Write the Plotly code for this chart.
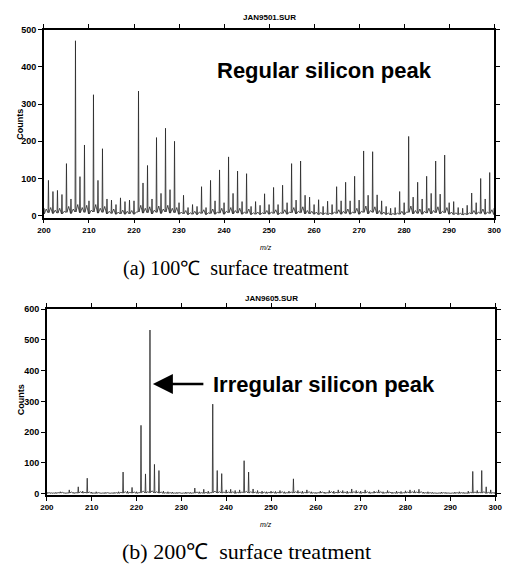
import plotly.graph_objects as go

W, H = 508, 569

# ---------------- data ----------------
mz = list(range(200, 301))

top_peak = [20, 95, 65, 68, 57, 140, 45, 470, 105, 190,
            40, 325, 95, 180, 45, 42, 30, 48, 38, 42,
            40, 335, 88, 135, 45, 210, 60, 235, 70, 200,
            35, 55, 22, 30, 25, 78, 22, 95, 40, 123,
            35, 158, 60, 120, 38, 113, 25, 38, 28, 59,
            30, 76, 30, 82, 35, 140, 42, 147, 55, 50,
            30, 43, 25, 39, 30, 78, 40, 90, 40, 106,
            42, 174, 55, 172, 56, 40, 25, 20, 22, 65,
            35, 213, 50, 90, 45, 106, 60, 147, 58, 163,
            35, 38, 22, 20, 28, 61, 35, 100, 45, 116, 20]
top_valley = [5, 8, 6, 7, 5, 9, 6, 10, 8, 9, 5, 10, 7, 9, 5, 6, 4, 5, 4, 5,
              4, 10, 7, 8, 5, 9, 6, 10, 7, 8, 4, 5, 3, 4, 3, 6, 3, 6, 4, 7,
              4, 8, 5, 7, 4, 6, 3, 4, 3, 5, 4, 6, 3, 6, 4, 8, 5, 8, 5, 5,
              4, 3, 3, 3, 4, 6, 4, 6, 4, 7, 4, 9, 5, 9, 5, 4, 3, 2, 3, 4,
              3, 9, 5, 6, 4, 7, 5, 8, 5, 8, 4, 3, 3, 2, 3, 5, 4, 6, 4, 6, 3]
top_minor = [18, 22, 15, 20, 12, 25, 18, 30, 22, 28, 15, 30, 20, 25, 12, 18, 10, 15, 12, 14,
             10, 28, 20, 24, 15, 26, 18, 28, 20, 22, 10, 14, 8, 12, 10, 16, 8, 18, 10, 20,
             12, 22, 14, 20, 10, 18, 8, 10, 8, 14, 10, 16, 8, 16, 10, 22, 12, 24, 14, 12,
             10, 9, 8, 7, 10, 16, 12, 18, 10, 20, 12, 26, 14, 24, 14, 10, 8, 6, 7, 12,
             10, 26, 14, 18, 12, 20, 14, 24, 12, 22, 10, 8, 7, 6, 8, 14, 10, 18, 10, 16, 8]

bot_peak = [5, 3, 4, 6, 3, 12, 4, 22, 8, 50,
            5, 6, 3, 4, 2, 4, 6, 70, 8, 20,
            6, 222, 64, 532, 95, 75, 8, 6, 5, 4,
            3, 5, 4, 18, 6, 14, 8, 291, 75, 65,
            12, 14, 10, 12, 107, 70, 15, 10, 8, 6,
            8, 7, 10, 6, 8, 48, 10, 8, 12, 6,
            4, 8, 5, 10, 8, 12, 10, 8, 15, 10,
            8, 12, 6, 8, 12, 6, 10, 5, 8, 7,
            9, 12, 10, 14, 5, 6, 4, 3, 5, 4,
            3, 5, 6, 4, 8, 72, 10, 75, 22, 12, 5]
bot_valley = [1, 1, 1, 2, 1, 2, 1, 2, 2, 2, 1, 1, 1, 1, 1, 1, 1, 2, 1, 2,
              1, 3, 2, 3, 2, 2, 1, 1, 1, 1, 1, 1, 1, 2, 1, 1, 1, 3, 2, 2,
              2, 2, 1, 2, 3, 2, 2, 1, 1, 1, 2, 1, 2, 1, 2, 2, 2, 1, 2, 1,
              1, 2, 1, 2, 1, 2, 2, 1, 2, 2, 1, 2, 1, 2, 2, 1, 2, 1, 1, 1,
              2, 2, 2, 2, 1, 1, 1, 1, 1, 1, 1, 1, 1, 1, 1, 2, 2, 2, 1, 1, 1]
bot_minor = [3, 2, 3, 4, 2, 5, 3, 6, 4, 5, 2, 3, 2, 3, 2, 3, 4, 6, 4, 5,
             3, 8, 6, 9, 6, 5, 3, 3, 2, 3, 2, 3, 2, 5, 3, 4, 3, 8, 6, 5,
             5, 6, 4, 5, 7, 6, 5, 4, 5, 4, 5, 4, 6, 3, 5, 6, 5, 4, 6, 3,
             3, 5, 3, 6, 4, 6, 5, 4, 6, 5, 4, 6, 3, 5, 6, 3, 5, 3, 4, 3,
             5, 6, 5, 6, 3, 3, 2, 2, 3, 2, 2, 3, 3, 2, 4, 5, 4, 6, 4, 3, 2]

x_ticks = list(range(200, 301, 10))
top_yticks = [0, 100, 200, 300, 400, 500]
bot_yticks = [0, 100, 200, 300, 400, 500, 600]


def stick(mzs, peaks, valleys, minors):
    xs, ys = [], []
    for m, p, v, n in zip(mzs, peaks, valleys, minors):
        xs += [m - 0.1, m, m + 0.1, m + 0.5]
        ys += [v, p, v, n]
    return xs, ys


fig = go.Figure()
tx, ty = stick(mz, top_peak, top_valley, top_minor)
bx, by = stick(mz, bot_peak, bot_valley, bot_minor)
fig.add_trace(go.Scatter(x=tx, y=ty, mode="lines", line=dict(color="#262626", width=0.8),
                         xaxis="x", yaxis="y", showlegend=False, hoverinfo="skip"))
fig.add_trace(go.Scatter(x=bx, y=by, mode="lines", line=dict(color="#262626", width=0.8),
                         xaxis="x2", yaxis="y2", showlegend=False, hoverinfo="skip"))

xfont = dict(family="Liberation Sans, Arial", size=8, color="black", weight="bold")
yfont = dict(family="Liberation Sans, Arial", size=9, color="black", weight="bold")
axis_common = dict(showline=True, linecolor="black", linewidth=1.5, mirror="ticks",
                   ticks="outside", ticklen=4, tickwidth=1.2, tickcolor="black",
                   showgrid=False, zeroline=False, ticklabeloverflow="allow")

fig.update_layout(
    width=W, height=H, margin=dict(l=0, r=0, t=0, b=0),
    paper_bgcolor="white", plot_bgcolor="white",
    xaxis=dict(domain=[38 / W, 501 / W], range=[200, 300], tickvals=x_ticks,
               anchor="y", tickfont=xfont, **axis_common),
    yaxis=dict(domain=[1 - 216 / H, 1 - 25 / H], range=[-5, 500], tickvals=top_yticks,
               anchor="x", tickfont=yfont, **axis_common),
    xaxis2=dict(domain=[41 / W, 502 / W], range=[200, 300], tickvals=x_ticks,
                anchor="y2", tickfont=xfont, **axis_common),
    yaxis2=dict(domain=[1 - 498 / H, 1 - 309 / H], range=[-5, 600], tickvals=bot_yticks,
                anchor="x2", tickfont=yfont, **axis_common),
)


def px(x):
    return x / W


def py(y):
    return 1 - y / H


small = dict(family="Liberation Sans, Arial", size=8, color="black", weight="bold")
ann = [
    dict(x=px(270), y=py(13), text="JAN9501.SUR", font=small),
    dict(x=px(272), y=py(298), text="JAN9605.SUR", font=small),
    dict(x=px(266), y=py(246), text="<i>m/z</i>", font=dict(family="Liberation Sans", size=7, color="black")),
    dict(x=px(266), y=py(528), text="<i>m/z</i>", font=dict(family="Liberation Sans", size=7, color="black")),
    dict(x=px(13), y=py(121), text="Counts", textangle=-90, font=dict(family="Liberation Sans", size=9, color="black", weight="bold")),
    dict(x=px(14), y=py(401), text="Counts", textangle=-90, font=dict(family="Liberation Sans", size=9, color="black", weight="bold")),
    dict(x=px(326), y=py(67), text="Regular silicon peak",
         font=dict(family="Liberation Sans, Arial", size=22, color="black", weight="bold")),
    dict(x=px(326), y=py(386), text="Irregular silicon peak",
         font=dict(family="Liberation Sans, Arial", size=22, color="black", weight="bold")),
    dict(x=px(236), y=py(268), text="(a) 100℃  surface treatment",
         font=dict(family="Liberation Serif, Times New Roman", size=20, color="black")),
    dict(x=px(246), y=py(555), text="(b) 200℃  surface treatment",
         font=dict(family="Liberation Serif, Times New Roman", size=22, color="black")),
]
for a in ann:
    a.update(xref="paper", yref="paper", showarrow=False, xanchor="center", yanchor="middle")
    fig.add_annotation(**a)

# arrow pointing at the irregular peak
fig.add_annotation(x=px(150), y=py(385), xref="paper", yref="paper", text="",
                   showarrow=True, ax=52, ay=0, axref="pixel", ayref="pixel",
                   arrowhead=2, arrowsize=1.6, arrowwidth=2.5, arrowcolor="black")

fig.write_html("out.html", config={"displayModeBar": False},
               post_script="document.body.style.margin='0';document.body.style.padding='0';"
                           "document.body.style.overflow='hidden';")
